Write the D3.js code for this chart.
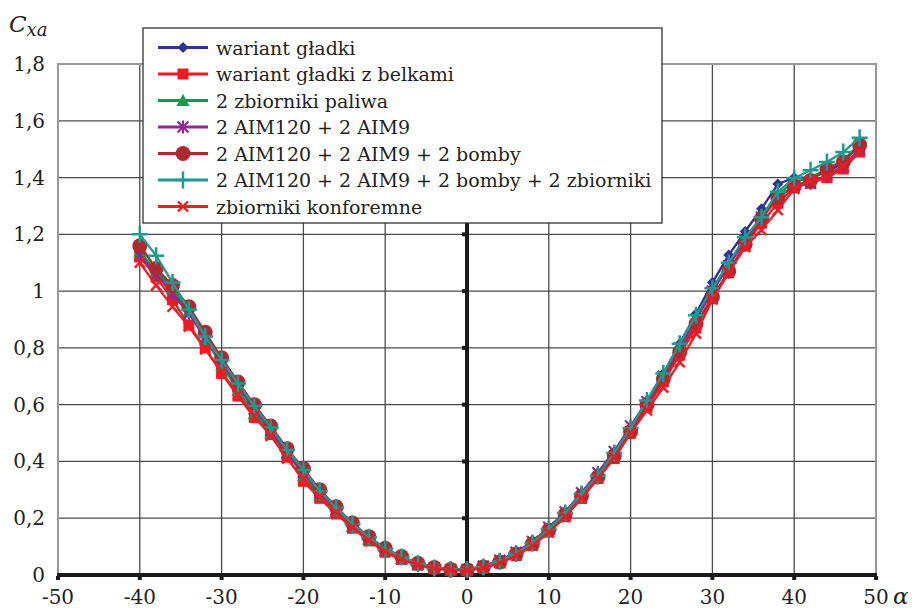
<!DOCTYPE html>
<html>
<head>
<meta charset="utf-8">
<script src="https://cdn.jsdelivr.net/npm/d3@7"></script>
<style>
  html, body { margin: 0; padding: 0; background: #fff; }
</style>
</head>
<body>
<div id="chart"></div>
<script>
// angle of attack (deg)
const alphas = [-40,-38,-36,-34,-32,-30,-28,-26,-24,-22,-20,-18,-16,-14,-12,-10,-8,-6,-4,-2,
                0,2,4,6,8,10,12,14,16,18,20,22,24,26,28,30,32,34,36,38,40,42,44,46,48];

const wariantGladki = [1.13,1.07,1.00,0.93,0.84,0.75,0.665,0.585,0.51,0.435,0.365,0.295,0.235,0.178,0.13,0.09,0.062,0.04,0.026,0.02,
  0.019,0.03,0.05,0.078,0.115,0.165,0.22,0.288,0.36,0.435,0.52,0.615,0.71,0.815,0.92,1.03,1.127,1.21,1.29,1.377,1.40,1.40,1.42,1.45,1.52];
const zBelkami = [1.12,1.05,0.97,0.88,0.80,0.71,0.63,0.555,0.495,0.415,0.33,0.27,0.215,0.165,0.12,0.08,0.055,0.035,0.022,0.017,
  0.016,0.025,0.043,0.07,0.105,0.152,0.205,0.27,0.34,0.41,0.50,0.59,0.68,0.775,0.87,0.975,1.065,1.16,1.24,1.31,1.365,1.38,1.40,1.43,1.49];
const zbiornikiPaliwa = [1.14,1.07,1.01,0.93,0.83,0.74,0.65,0.57,0.50,0.43,0.35,0.28,0.225,0.17,0.125,0.085,0.058,0.038,0.024,0.018,
  0.017,0.027,0.046,0.075,0.112,0.16,0.218,0.285,0.355,0.43,0.515,0.61,0.70,0.80,0.905,1.00,1.09,1.18,1.265,1.34,1.385,1.40,1.43,1.46,1.52];
const aim = [1.125,1.06,0.99,0.92,0.835,0.75,0.665,0.585,0.51,0.43,0.36,0.29,0.23,0.172,0.127,0.086,0.058,0.037,0.025,0.019,
  0.019,0.032,0.052,0.08,0.118,0.168,0.222,0.29,0.36,0.435,0.525,0.61,0.70,0.80,0.90,1.00,1.09,1.18,1.26,1.33,1.37,1.38,1.41,1.44,1.50];
const aimBomby = [1.16,1.08,1.02,0.945,0.855,0.765,0.68,0.60,0.525,0.445,0.375,0.30,0.24,0.183,0.135,0.094,0.065,0.041,0.026,0.019,
  0.018,0.028,0.046,0.074,0.11,0.158,0.213,0.278,0.345,0.42,0.505,0.60,0.69,0.785,0.885,0.98,1.07,1.165,1.255,1.33,1.37,1.39,1.43,1.455,1.515];
const aimBombyZbiorniki = [1.20,1.125,1.03,0.935,0.84,0.757,0.675,0.595,0.52,0.44,0.37,0.295,0.237,0.18,0.133,0.092,0.063,0.04,0.025,0.019,
  0.019,0.028,0.048,0.076,0.113,0.162,0.218,0.285,0.35,0.43,0.517,0.615,0.71,0.815,0.915,1.01,1.10,1.19,1.26,1.35,1.398,1.426,1.455,1.49,1.54];
const konforemne = [1.10,1.02,0.945,0.875,0.795,0.715,0.635,0.56,0.49,0.41,0.34,0.275,0.22,0.168,0.122,0.082,0.055,0.036,0.023,0.017,
  0.016,0.024,0.042,0.068,0.103,0.15,0.205,0.27,0.34,0.415,0.50,0.58,0.66,0.75,0.85,0.97,1.065,1.155,1.215,1.285,1.36,1.39,1.40,1.44,1.49];

const seriesNames = [
  "wariant gładki",
  "wariant gładki z belkami",
  "2 zbiorniki paliwa",
  "2 AIM120 + 2 AIM9",
  "2 AIM120 + 2 AIM9 + 2 bomby",
  "2 AIM120 + 2 AIM9 + 2 bomby + 2 zbiorniki",
  "zbiorniki konforemne"
];
const seriesValues = [wariantGladki, zBelkami, zbiornikiPaliwa, aim, aimBomby, aimBombyZbiorniki, konforemne];
const seriesColours = ["#2e3192", "#ed1c24", "#00a14b", "#92278f", "#ac2a30", "#1e9a90", "#ed1c24"];
const seriesMarkers = ["diamond", "square", "triangle", "asterisk", "circle", "plus", "cross"];

const xTicks = [-50,-40,-30,-20,-10,0,10,20,30,40,50];
const yTicks = [0,0.2,0.4,0.6,0.8,1,1.2,1.4,1.6,1.8];
const yTickLabels = ["0","0,2","0,4","0,6","0,8","1","1,2","1,4","1,6","1,8"];

const FONT = "'DejaVu Serif', 'Liberation Serif', serif";
const fullW = 914, fullH = 610;
const plot = { left: 58, right: 876, top: 64, bottom: 575 };

const svg = d3.select("#chart").append("svg")
  .attr("width", fullW).attr("height", fullH);

const x = d3.scaleLinear().domain([-50, 50]).range([plot.left, plot.right]);
const y = d3.scaleLinear().domain([0, 1.8]).range([plot.bottom, plot.top]);

// grid
const grid = svg.append("g");
grid.selectAll(".vg").data(xTicks.filter(t => t !== 0 && t !== -50 && t !== 50)).enter()
  .append("line")
  .attr("x1", d => x(d)).attr("x2", d => x(d))
  .attr("y1", plot.top).attr("y2", plot.bottom)
  .attr("stroke", "#4a4a4a").attr("stroke-width", 1.3);
grid.selectAll(".hg").data(yTicks.filter(t => t !== 0 && t !== 1.8)).enter()
  .append("line")
  .attr("x1", plot.left).attr("x2", plot.right)
  .attr("y1", d => y(d)).attr("y2", d => y(d))
  .attr("stroke", "#4a4a4a").attr("stroke-width", 1.3);

// frame
svg.append("rect")
  .attr("x", plot.left).attr("y", plot.top)
  .attr("width", plot.right - plot.left).attr("height", plot.bottom - plot.top)
  .attr("fill", "none").attr("stroke", "#999").attr("stroke-width", 2);

// axes through zero
svg.append("line")
  .attr("x1", x(0)).attr("x2", x(0)).attr("y1", plot.top).attr("y2", plot.bottom)
  .attr("stroke", "#1a1a1a").attr("stroke-width", 4);
svg.append("g").selectAll("rect").data(yTicks.filter(t => t > 0)).enter()
  .append("rect")
  .attr("x", x(0) - 5).attr("y", d => y(d) - 2)
  .attr("width", 4).attr("height", 4).attr("fill", "#1a1a1a");

svg.append("line")
  .attr("x1", plot.left - 1).attr("x2", plot.right + 1).attr("y1", y(0)).attr("y2", y(0))
  .attr("stroke", "#1a1a1a").attr("stroke-width", 4);
svg.append("g").selectAll("rect").data(xTicks).enter()
  .append("rect")
  .attr("x", d => x(d) - 2).attr("y", y(0) + 1)
  .attr("width", 4).attr("height", 4).attr("fill", "#1a1a1a");

// tick labels
svg.append("g").selectAll("text").data(yTicks).enter()
  .append("text")
  .attr("x", 45).attr("y", d => y(d) + 7)
  .attr("text-anchor", "end")
  .attr("font-family", FONT)
  .attr("font-size", 20).attr("fill", "#231f20")
  .text((d, i) => yTickLabels[i]);

svg.append("g").selectAll("text").data(xTicks).enter()
  .append("text")
  .attr("x", d => x(d)).attr("y", 604)
  .attr("text-anchor", "middle")
  .attr("font-family", FONT)
  .attr("font-size", 20).attr("fill", "#231f20")
  .text(d => d);

// axis titles
const cxa = svg.append("text").attr("x", 9).attr("y", 32)
  .attr("font-family", FONT)
  .attr("font-style", "italic").attr("fill", "#231f20");
cxa.append("tspan").attr("font-size", 23).text("C");
cxa.append("tspan").attr("dy", 4).attr("font-size", 18).text("xa");

svg.append("text").attr("x", 893).attr("y", 604)
  .attr("font-family", FONT)
  .attr("font-style", "italic").attr("font-size", 23).attr("fill", "#231f20")
  .text("α");

// markers
function drawMarker(sel, type, colour) {
  if (type === "circle") {
    sel.append("circle").attr("r", 7.5).attr("fill", colour);
  } else if (type === "diamond") {
    sel.append("path").attr("d", "M0,-5.5L5.5,0L0,5.5L-5.5,0Z").attr("fill", colour);
  } else if (type === "square") {
    sel.append("rect").attr("x", -5.5).attr("y", -5.5).attr("width", 11).attr("height", 11).attr("fill", colour);
  } else if (type === "triangle") {
    sel.append("path").attr("d", "M0,-6.5L6.5,5.5L-6.5,5.5Z").attr("fill", colour);
  } else if (type === "asterisk") {
    sel.append("path").attr("d", "M-5.5,-5.5L5.5,5.5M-5.5,5.5L5.5,-5.5M0,-6.5L0,6.5")
      .attr("stroke", colour).attr("stroke-width", 2.2).attr("fill", "none");
  } else if (type === "plus") {
    sel.append("path").attr("d", "M-8,0L8,0M0,-8.5L0,8.5")
      .attr("stroke", colour).attr("stroke-width", 2.5).attr("fill", "none");
  } else if (type === "cross") {
    sel.append("path").attr("d", "M-5,-5L5,5M-5,5L5,-5")
      .attr("stroke", colour).attr("stroke-width", 2.4).attr("fill", "none");
  }
}

const line = d3.line().x(d => x(d[0])).y(d => y(d[1]));

seriesValues.forEach((vals, s) => {
  const pts = alphas.map((a, i) => [a, vals[i]]);
  const g = svg.append("g").attr("class", "series");
  g.append("path")
    .datum(pts)
    .attr("d", line)
    .attr("fill", "none")
    .attr("stroke", seriesColours[s])
    .attr("stroke-width", 2.3);
  g.selectAll(".m").data(pts).enter()
    .append("g")
    .attr("transform", d => `translate(${x(d[0])},${y(d[1])})`)
    .each(function() { drawMarker(d3.select(this), seriesMarkers[s], seriesColours[s]); });
});

// legend
const legend = svg.append("g");
legend.append("rect")
  .attr("x", 143).attr("y", 28).attr("width", 519).attr("height", 195)
  .attr("fill", "#fff").attr("stroke", "#231f20").attr("stroke-width", 1.2);

seriesNames.forEach((name, i) => {
  const cy = 47.5 + i * 26.5;
  const row = legend.append("g");
  row.append("line")
    .attr("x1", 158).attr("x2", 208).attr("y1", cy).attr("y2", cy)
    .attr("stroke", seriesColours[i]).attr("stroke-width", 2.8);
  const m = row.append("g").attr("transform", `translate(183,${cy})`);
  drawMarker(m, seriesMarkers[i], seriesColours[i]);
  row.append("text")
    .attr("x", 216).attr("y", cy + 7)
    .attr("font-family", FONT)
    .attr("font-size", 19).attr("fill", "#231f20")
    .text(name);
});
</script>
</body>
</html>
